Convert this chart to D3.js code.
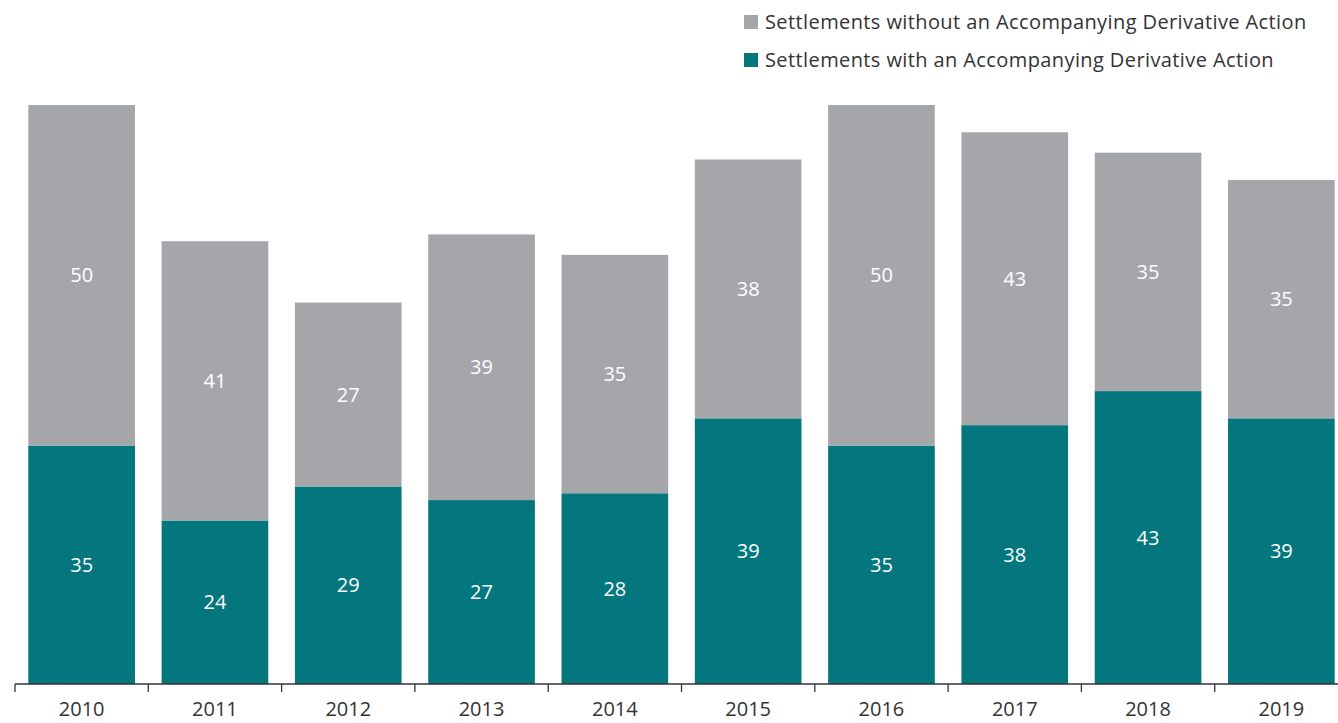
<!DOCTYPE html>
<html>
<head>
<meta charset="utf-8">
<script src="https://cdn.jsdelivr.net/npm/d3@7/dist/d3.min.js"></script>
<style>
  html, body { margin: 0; padding: 0; background: #fff; }
  svg { display: block; }
  text { font-family: "Open Sans", "Noto Sans", sans-serif; }
</style>
</head>
<body>
<svg id="chart" width="1338" height="723"></svg>
<script>
// Settlement counts per year
const years = ["2010", "2011", "2012", "2013", "2014", "2015", "2016", "2017", "2018", "2019"];
const withDerivative = [35, 24, 29, 27, 28, 39, 35, 38, 43, 39];
const withoutDerivative = [50, 41, 27, 39, 35, 38, 50, 43, 35, 35];
const seriesNames = [
  "Settlements without an Accompanying Derivative Action",
  "Settlements with an Accompanying Derivative Action"
];
const colors = { with: "#03767E", without: "#A5A6AA" };

const svg = d3.select("#chart");
const axisY = 684;

const x = d3.scaleBand().domain(years).range([15, 1348]).paddingInner(0.2).paddingOuter(0.1);
const y = d3.scaleLinear().domain([0, 85]).range([axisY, 105]);

const rows = years.map((yr, i) => ({ year: yr, with: withDerivative[i], without: withoutDerivative[i] }));
const stacked = d3.stack().keys(["with", "without"])(rows);

const g = svg.append("g");
stacked.forEach(layer => {
  const key = layer.key;
  g.selectAll(null).data(layer).enter().append("rect")
    .attr("x", d => x(d.data.year))
    .attr("width", x.bandwidth())
    .attr("y", d => y(d[1]))
    .attr("height", d => y(d[0]) - y(d[1]))
    .attr("fill", colors[key]);
  g.selectAll(null).data(layer).enter().append("text")
    .attr("x", d => x(d.data.year) + x.bandwidth() / 2)
    .attr("y", d => (y(d[0]) + y(d[1])) / 2)
    .attr("dy", "0.35em")
    .attr("text-anchor", "middle")
    .attr("fill", "#fff")
    .attr("font-size", 20)
    .text(d => d.data[key]);
});

// Category axis with ticks between bars
const step = x.step();
const axisG = svg.append("g").attr("transform", `translate(0,${axisY})`);
axisG.append("line")
  .attr("x1", 15).attr("x2", 1338)
  .attr("stroke", "#333").attr("stroke-width", 1.3);
axisG.selectAll("line.tick").data(d3.range(years.length + 1)).enter().append("line")
  .attr("class", "tick")
  .attr("x1", i => 15 + i * step).attr("x2", i => 15 + i * step)
  .attr("y1", 0).attr("y2", 8)
  .attr("stroke", "#333").attr("stroke-width", 1.3);
axisG.selectAll("text").data(years).enter().append("text")
  .attr("x", d => x(d) + x.bandwidth() / 2)
  .attr("y", 32)
  .attr("text-anchor", "middle")
  .attr("fill", "#333")
  .attr("font-size", 20)
  .text(d => d);

// Legend
const legend = svg.append("g");
const legendItems = [
  { name: seriesNames[0], color: colors.without, cy: 22 },
  { name: seriesNames[1], color: colors.with, cy: 60 }
];
legendItems.forEach(it => {
  legend.append("rect").attr("x", 744).attr("y", it.cy - 7).attr("width", 14).attr("height", 14).attr("fill", it.color);
  legend.append("text").attr("x", 765).attr("y", it.cy).attr("dy", "0.35em")
    .attr("font-size", 20).attr("letter-spacing", 0.4).attr("fill", "#333").text(it.name);
});
</script>
</body>
</html>
